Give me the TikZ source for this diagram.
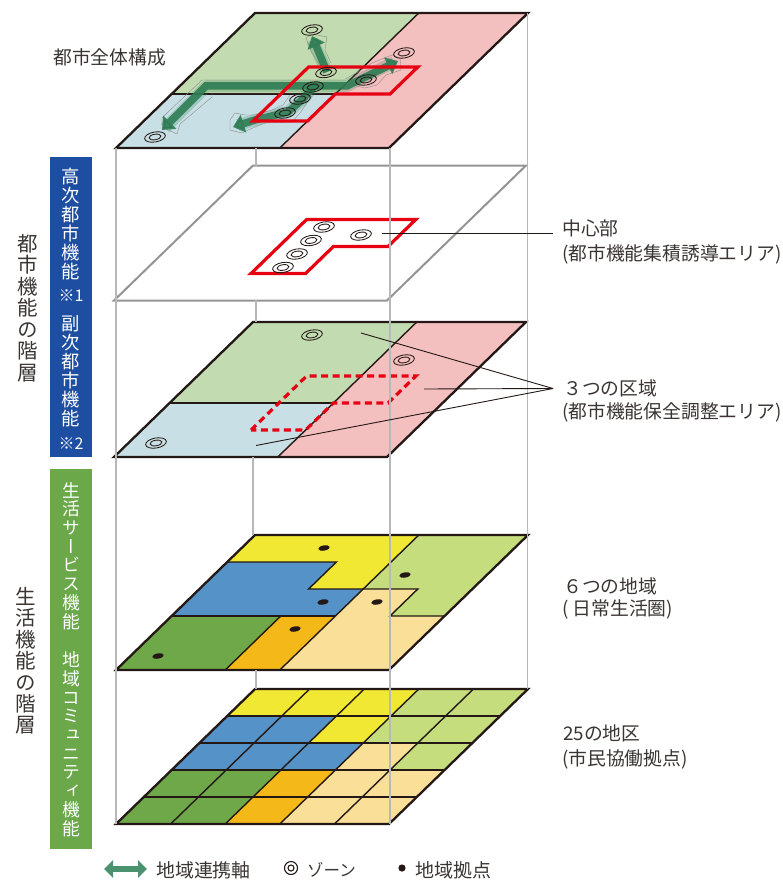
\documentclass[tikz,border=0pt]{standalone}
\usepackage{fontspec}
\usetikzlibrary{arrows.meta}
\setmainfont{Noto Sans CJK JP}
\newfontfamily\vfont[RawFeature=+vert]{Noto Sans CJK JP}
\definecolor{cGreen}{HTML}{C2DBB0}
\definecolor{cPink}{HTML}{F4BFBF}
\definecolor{cLBlue}{HTML}{C8E0E5}
\definecolor{cYellow}{HTML}{F0E832}
\definecolor{cLime}{HTML}{C5DD7C}
\definecolor{cBlue}{HTML}{5592C8}
\definecolor{cDGreen}{HTML}{6EA848}
\definecolor{cOrange}{HTML}{F4B918}
\definecolor{cBeige}{HTML}{F9DF97}
\definecolor{cBarBlue}{HTML}{1E4EA1}
\definecolor{cBarGreen}{HTML}{6AA84A}
\definecolor{cInk}{HTML}{231815}
\definecolor{cText}{HTML}{3A3533}
\definecolor{cRed}{HTML}{E60012}
\definecolor{cArrow}{HTML}{2F7D55}
\definecolor{cLegend}{HTML}{4A9270}
\tikzset{
  gridplane/.style={shift={(#1)},x={(54.6pt,0pt)},y={(27.8pt,27pt)}},
  edge/.style={draw=cInk,line width=2.3pt,line join=miter},
  inner/.style={draw=cInk,line width=1.4pt},
  guide/.style={draw=black!28,line width=1.1pt},
  callout/.style={draw=cInk,line width=0.9pt},
  zoneline/.style={draw=cInk,line width=0.85pt},
  halo/.style={draw=black!45,line width=0.4pt,line join=round},
  glow/.style={line width=12pt,draw=cArrow,opacity=.25,line join=round},
  core/.style={line width=7.5pt,draw=cArrow,opacity=.9,line join=miter},
  redline/.style={draw=cRed,line width=3.2pt,line join=miter},
  txt/.style={inner sep=0pt,text=cText,font=\fontsize{18.8}{22}\selectfont},
  bartxt/.style={inner sep=0pt,text=white,align=center},
}
\newcommand{\threeareas}{%
  \fill[cGreen] (0,2) -- (0,5) -- (3,5) -- (3,2) -- cycle;
  \fill[cLBlue] (0,0) -- (0,2) -- (3,2) -- (3,0) -- cycle;
  \fill[cPink] (3,0) -- (3,5) -- (5,5) -- (5,0) -- cycle;
}
\newcommand{\threelines}{%
  \draw[inner] (0,2) -- (3,2);
  \draw[inner] (3,0) -- (3,5);
  \draw[edge] (0,0) -- (5,0) -- (5,5) -- (0,5) -- cycle;
}
\newcommand{\sixareas}{%
  \fill[cYellow] (0,4) -- (0,5) -- (3,5) -- (3,3) -- (2,3) -- (2,4) -- cycle;
  \fill[cLime] (3,5) -- (5,5) -- (5,2) -- (4,2) -- (4,3) -- (3,3) -- cycle;
  \fill[cBlue] (0,2) -- (0,4) -- (2,4) -- (2,3) -- (3,3) -- (3,2) -- cycle;
  \fill[cDGreen] (0,0) -- (0,2) -- (2,2) -- (2,0) -- cycle;
  \fill[cOrange] (2,0) -- (2,2) -- (3,2) -- (3,0) -- cycle;
  \fill[cBeige] (3,0) -- (3,3) -- (4,3) -- (4,2) -- (5,2) -- (5,0) -- cycle;
}
\newcommand{\zonemark}[1]{%
  \draw[zoneline] (#1) ellipse [x radius=10.5pt,y radius=5pt,rotate=10];
  \draw[zoneline] (#1) ellipse [x radius=6pt,y radius=2.8pt,rotate=10];
}
\newcommand{\basemark}[1]{%
  \fill[cInk] (#1) ellipse [x radius=5.8pt,y radius=2.6pt,rotate=10];
}
\begin{document}
\begin{tikzpicture}[x=1pt,y=-1pt]
\useasboundingbox (0,0) rectangle (782,880);
% bars
\fill[cBarBlue] (50,157) rectangle (92,457);
\fill[cBarGreen] (50,469) rectangle (92,849);
% planes: fills
\begin{scope}[gridplane={116,148}]\threeareas\end{scope}
\begin{scope}[gridplane={114,457}]\threeareas\end{scope}
\begin{scope}[gridplane={116,670}]\sixareas\end{scope}
\begin{scope}[gridplane={116,824}]\sixareas\end{scope}
% inner and outer lines of the planes
\begin{scope}[gridplane={116,148}]\threelines\end{scope}
\begin{scope}[gridplane={114,457}]\threelines\end{scope}
\begin{scope}[gridplane={114,300.5}]
  \draw[draw=black!42,line width=2pt] (0,0) -- (5,0) -- (5,5) -- (0,5) -- cycle;
  \draw[redline] (2,1) -- (2,3) -- (4,3) -- (4,2) -- (3,2) -- (3,1) -- cycle;
\end{scope}
\begin{scope}[gridplane={114,457}]
  \draw[draw=cRed,line width=3.2pt,dash pattern=on 7pt off 4.5pt] (2,1) -- (2,3) -- (4,3) -- (4,2) -- (3,2) -- (3,1) -- cycle;
\end{scope}
\begin{scope}[gridplane={116,670}]
  \draw[inner] (0,4) -- (2,4) -- (2,3) -- (3,3) -- (3,5);
  \draw[inner] (0,2) -- (3,2);
  \draw[inner] (2,0) -- (2,2);
  \draw[inner] (3,0) -- (3,3) -- (4,3) -- (4,2) -- (5,2);
  \draw[edge] (0,0) -- (5,0) -- (5,5) -- (0,5) -- cycle;
\end{scope}
\begin{scope}[gridplane={116,824}]
  \foreach \k in {1,2,3,4} {
    \draw[inner] (\k,0) -- (\k,5);
    \draw[inner] (0,\k) -- (5,\k);
  }
  \draw[edge] (0,0) -- (5,0) -- (5,5) -- (0,5) -- cycle;
\end{scope}
% guides
\draw[guide] (116,148) -- (116,824);
\draw[guide] (390,148) -- (390,824);
\draw[guide] (527.5,13) -- (527.5,689);
\draw[guide] (256,148) -- (256,166);
\draw[guide] (256,300) -- (256,322);
\draw[guide] (253,457) -- (253,535);
\draw[guide] (256,670) -- (256,689);
% axes on the top plane
\draw[glow] (327,72) -- (312,40);
\draw[glow] (165,128) -- (207,86) -- (347,86) -- (394,62);
\draw[glow] (315,85) -- (303,99) -- (288,112) -- (255,120) -- (238,125);
\draw[halo] (320,65) -- (312,53) -- (306,38) -- (312,34) -- (327,37) -- (325,50) -- (331,63);
\draw[halo] (345,79) -- (358,72) -- (372,63) -- (392,55) -- (400,58) -- (401,70) -- (386,75) -- (377,85) -- (365,88) -- (352,85);
\draw[halo] (345,80) -- (202,80) -- (167,113) -- (162,118) -- (162,127) -- (177,134) -- (180,124) -- (212,97) -- (212,93) -- (335,93);
\draw[halo] (290,95) -- (283,105) -- (272,110) -- (255,115) -- (245,115) -- (235,113) -- (230,120) -- (230,130) -- (242,133) -- (248,130) -- (265,123) -- (292,122) -- (300,113) -- (312,96);
\draw[core,-{Triangle[width=18pt,length=11pt]}] (327,72) -- (312,36);
\draw[core,{Triangle[width=18pt,length=11pt]}-{Triangle[width=18pt,length=11pt]}] (162,130) -- (206,86) -- (347,86) -- (398,61);
\draw[core,-{Triangle[width=18pt,length=11pt]}] (315,85) -- (303,99) -- (288,112) -- (255,120) -- (233,127);
\begin{scope}[gridplane={116,148}]
  \draw[redline] (2,1) -- (2,3) -- (4,3) -- (4,2) -- (3,2) -- (3,1) -- cycle;
\end{scope}
% zone marks
\zonemark{312,30}\zonemark{404,53}\zonemark{326,72.5}\zonemark{313,87}\zonemark{300,99}\zonemark{285,113}\zonemark{366,80}\zonemark{155,137}
\zonemark{324,227}\zonemark{311,240.5}\zonemark{297,254}\zonemark{283,267.5}\zonemark{361,235}
\zonemark{312,335}\zonemark{404,360}\zonemark{156,443}
% base marks
\basemark{324,548}\basemark{405,575}\basemark{323,602}\basemark{377,602}\basemark{295,629}\basemark{158,656}
% text
\node[txt,anchor=west] (whole) at (53,57) {都市全体構成};
\node[txt,anchor=west] (centre) at (562,228) {中心部};
\node[txt,anchor=west] (centreSub) at (562,254) {(都市機能集積誘導エリア)};
\node[txt,anchor=west] (areas) at (563,388) {３つの区域};
\node[txt,anchor=west] (areasSub) at (562,412) {(都市機能保全調整エリア)};
\node[txt,anchor=west] (six) at (563,586) {６つの地域};
\node[txt,anchor=west] (sixSub) at (562,609) {( 日常生活圏)};
\node[txt,anchor=west] (twentyfive) at (563,733) {25の地区};
\node[txt,anchor=west] (twentyfiveSub) at (562,759) {(市民協働拠点)};
% connectors
\coordinate (cA) at (382,233);
\coordinate (cB) at (553,233);
\coordinate (cHub) at (553,388.5);
\coordinate (cG) at (361,333);
\coordinate (cP) at (424,389);
\coordinate (cL) at (256,445.5);
\draw[callout] (cA) -- (cB);
\draw[callout] (cG) -- (cHub);
\draw[callout] (cP) -- (cHub);
\draw[callout] (cL) -- (cHub);
% vertical labels
\node[bartxt,anchor=north,font=\vfont\fontsize{18.3}{19}\selectfont] (barTop) at (71,168) {高\\次\\都\\市\\機\\能\\[4pt]{\fontsize{16}{19}\selectfont\rmfamily ※1}\\[10pt]副\\次\\都\\市\\機\\能\\[5pt]{\fontsize{16}{19}\selectfont\rmfamily ※2}};
\node[bartxt,anchor=north,font=\vfont\fontsize{17.8}{18.7}\selectfont] (barBottom) at (71,482) {生\\活\\サ\\ー\\ビ\\ス\\機\\能\\[20pt]地\\域\\コ\\ミ\\ュ\\ニ\\テ\\ィ\\機\\能};
\node[inner sep=0pt,text=cText,align=center,anchor=center,font=\vfont\fontsize{20.5}{21.5}\selectfont] (layerTop) at (28,308) {都\\市\\機\\能\\の\\階\\層};
\node[inner sep=0pt,text=cText,align=center,anchor=center,font=\vfont\fontsize{20.5}{21.4}\selectfont] (layerBottom) at (26,661) {生\\活\\機\\能\\の\\階\\層};
% legend
\coordinate (legL) at (104,869);
\coordinate (legR) at (147,869);
\draw[draw=cLegend,line width=6pt,{Triangle[width=17pt,length=9pt]}-{Triangle[width=17pt,length=9pt]}] (legL) -- (legR);
\node[txt,anchor=west,font=\fontsize{18.9}{22}\selectfont] (legAxis) at (156,870) {地域連携軸};
\draw[draw=cInk,line width=1.1pt] (291,868) circle [radius=6.5pt];
\draw[draw=cInk,line width=1.1pt] (291,868) circle [radius=3pt];
\node[txt,anchor=west,font=\fontsize{16.5}{20}\selectfont] (legZone) at (307,870) {ゾーン};
\fill[cInk] (402,868) circle [radius=3.6pt];
\node[txt,anchor=west,font=\fontsize{19}{22}\selectfont] (legBase) at (415,870) {地域拠点};
\end{tikzpicture}
\end{document}
